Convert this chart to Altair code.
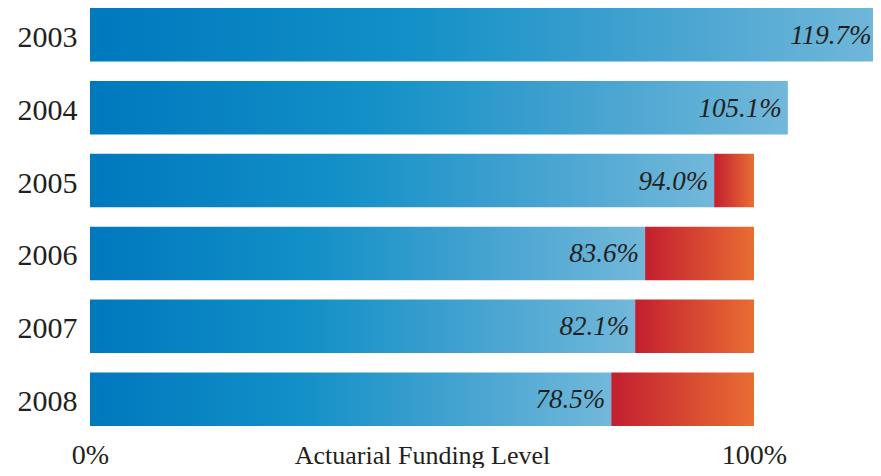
import altair as alt
import pandas as pd

years = ["2003", "2004", "2005", "2006", "2007", "2008"]
funding = [119.7, 105.1, 94.0, 83.6, 82.1, 78.5]
labels = ["119.7%", "105.1%", "94.0%", "83.6%", "82.1%", "78.5%"]
target = 100.0

df = pd.DataFrame({"year": years, "funding": funding, "label": labels})
gap = df[df["funding"] < target].copy()
gap["target"] = target

blue = alt.Gradient(
    gradient="linear",
    stops=[alt.GradientStop(offset=0, color="#0078BE"),
           alt.GradientStop(offset=0.4, color="#1290C7"),
           alt.GradientStop(offset=0.7, color="#43A2D0"),
           alt.GradientStop(offset=1, color="#72B8DA")],
    x1=0, x2=1, y1=0, y2=0,
)
red = alt.Gradient(
    gradient="linear",
    stops=[alt.GradientStop(offset=0, color="#C31F2F"),
           alt.GradientStop(offset=1, color="#E96D33")],
    x1=0, x2=1, y1=0, y2=0,
)

FONT = "Liberation Serif"

xscale = alt.Scale(domain=[0, 100], nice=False, zero=True)
yscale = alt.Scale(domain=years, paddingInner=0.2643, paddingOuter=0)

x_axis = alt.Axis(
    values=[0, 100],
    labelExpr="datum.value + '%'",
    domain=False, ticks=False, grid=False,
    labelFont=FONT, labelFontSize=28, labelColor="#231F20",
    labelBaseline="alphabetic", labelPadding=37,
    labelFlush=False,
    title="Actuarial Funding Level",
    titleFont=FONT, titleFontSize=26, titleFontWeight="normal",
    titleColor="#231F20", titleBaseline="alphabetic", titleY=37,
)
y_axis = alt.Axis(
    title=None, domain=False, ticks=False, grid=False,
    labelFont=FONT, labelFontSize=30, labelColor="#231F20",
    labelBaseline="alphabetic", labelOffset=12, labelPadding=13,
)

bars = alt.Chart(df).mark_bar(color=blue).encode(
    x=alt.X("funding:Q", scale=xscale, axis=x_axis),
    y=alt.Y("year:N", scale=yscale, axis=y_axis, sort=years),
)

gaps = alt.Chart(gap).mark_bar(color=red).encode(
    x=alt.X("funding:Q", scale=xscale),
    x2="target:Q",
    y=alt.Y("year:N", scale=yscale, sort=years),
)

# keep the label of the longest bar inside the visible page
text = alt.Chart(df).transform_calculate(
    lx="min(datum.funding, 118.6)"
).mark_text(
    align="right", baseline="alphabetic", dx=-6, dy=9,
    font=FONT, fontStyle="italic", fontSize=27, color="#231F20",
).encode(
    x=alt.X("lx:Q", scale=xscale),
    y=alt.Y("year:N", scale=yscale, sort=years),
    text="label:N",
)

chart = alt.layer(bars, gaps, text).properties(
    width=664, height=418,
    background="white",
    autosize=alt.AutoSizeParams(type="none"),
    padding={"left": 82, "top": 0, "right": 119, "bottom": 42},
).configure_view(stroke=None)

chart.save("out.html", embed_options={"renderer": "svg", "actions": False})
